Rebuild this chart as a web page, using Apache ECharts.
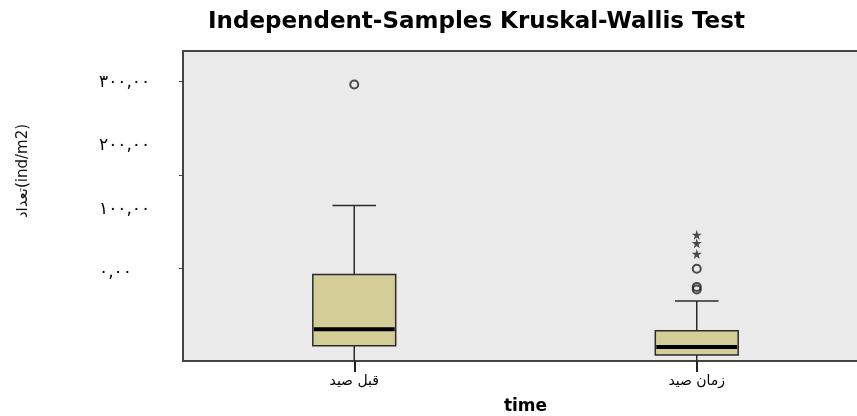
<!DOCTYPE html>
<html>
<head>
<meta charset="utf-8">
<script src="https://cdn.jsdelivr.net/npm/echarts@6/dist/echarts.min.js"></script>
<style>
html,body{margin:0;padding:0;background:#fff;}
#chart{width:857px;height:416px;}
</style>
</head>
<body>
<div id="chart"></div>
<script>
// ---- data ----
const chartTitle = 'Independent-Samples Kruskal-Wallis Test';
const yAxisTitle = 'تعداد(ind/m2)';
const xAxisTitle = 'time';
const categories = ['قبل صید', 'زمان صید'];
const lowerWhisker = [0, 0];
const q1 = [16.5, 6.5];
const medians = [34, 15];
const q3 = [93, 32.5];
const upperWhisker = [167, 64.5];
// outliers: [categoryIndex, value]
const circleOutliers = [[0, 297], [1, 76.8], [1, 79.6], [1, 99]];
const extremeOutliers = [[1, 115], [1, 126.5], [1, 135.5]];
// y tick marks and the tick labels as printed (labels sit on a separate label scale)
const yTickValues = [100, 200, 300];
const yTickLabels = ['۰,۰۰', '۱۰۰,۰۰', '۲۰۰,۰۰', '۳۰۰,۰۰'];
const yLabelSlots = [0, 10, 20, 30];

const boxData = categories.map((c, i) => [i, lowerWhisker[i], q1[i], medians[i], q3[i], upperWhisker[i]]);

const chart = echarts.init(document.getElementById('chart'), null, {renderer: 'canvas'});

const starPath = 'path://M50,0 L61,35 L98,35 L68,57 L79,91 L50,70 L21,91 L32,57 L2,35 L39,35 Z';

function renderBox(params, api) {
  const x = api.value(0);
  const pMin = api.coord([x, api.value(1)]);
  const pQ1 = api.coord([x, api.value(2)]);
  const pMed = api.coord([x, api.value(3)]);
  const pQ3 = api.coord([x, api.value(4)]);
  const pMax = api.coord([x, api.value(5)]);
  const band = api.size([1, 0])[0];
  const bw = band * 0.242;
  const cw = band * 0.127;
  const cx = pMed[0];
  const stroke = {stroke: '#2b2b2b', lineWidth: 1.5};
  return {
    type: 'group',
    children: [
      {type: 'line', shape: {x1: cx, y1: pQ3[1], x2: cx, y2: pMax[1]}, style: stroke},
      {type: 'line', shape: {x1: cx - cw / 2, y1: pMax[1], x2: cx + cw / 2, y2: pMax[1]}, style: stroke},
      {type: 'line', shape: {x1: cx, y1: pQ1[1], x2: cx, y2: pMin[1]}, style: stroke},
      {type: 'rect', shape: {x: cx - bw / 2, y: pQ3[1], width: bw, height: pQ1[1] - pQ3[1]},
        style: {fill: '#D3CE98', stroke: '#2b2b2b', lineWidth: 1.5}},
      {type: 'line', shape: {x1: cx - bw / 2 + 1, y1: pMed[1], x2: cx + bw / 2 - 1, y2: pMed[1]},
        style: {stroke: '#000', lineWidth: 4}}
    ]
  };
}

const option = {
  animation: false,
  backgroundColor: '#ffffff',
  title: {
    text: chartTitle,
    left: 203,
    top: 6,
    textStyle: {fontFamily: 'DejaVu Sans', fontWeight: 'bold', fontSize: 23, color: '#000'}
  },
  graphic: [{
    type: 'text',
    x: 23, y: 171,
    rotation: Math.PI / 2,
    style: {text: yAxisTitle, fontFamily: 'DejaVu Sans', fontSize: 15, fill: '#111',
      align: 'center', verticalAlign: 'middle'}
  }],
  grid: {
    left: 183, top: 51, right: -11, bottom: 55,
    show: true, backgroundColor: '#EAEAEA', borderColor: '#444', borderWidth: 2,
    outerBoundsMode: 'none'
  },
  xAxis: {
    type: 'category',
    data: categories,
    boundaryGap: true,
    axisLine: {lineStyle: {color: '#444', width: 2}},
    axisTick: {show: true, alignWithLabel: true, length: 11, lineStyle: {color: '#222', width: 2}},
    axisLabel: {color: '#000', fontFamily: 'DejaVu Sans', fontSize: 14, margin: 13},
    name: xAxisTitle,
    nameLocation: 'middle',
    nameGap: 37,
    nameTextStyle: {fontFamily: 'DejaVu Sans', fontWeight: 'bold', fontSize: 17, color: '#000'}
  },
  yAxis: [{
    type: 'value',
    min: 0, max: 333, interval: 100,
    axisLine: {show: true, lineStyle: {color: '#444', width: 2}},
    axisTick: {show: true, length: 4, customValues: yTickValues, lineStyle: {color: '#444', width: 1}},
    axisLabel: {show: false},
    splitLine: {show: false}
  }, {
    type: 'value',
    position: 'left',
    min: -14, max: 35, interval: 2,
    axisLine: {show: false},
    axisTick: {show: false},
    splitLine: {show: false},
    axisLabel: {
      align: 'left', margin: 84, color: '#000', fontFamily: 'DejaVu Sans', fontSize: 17,
      customValues: yLabelSlots,
      formatter: function (v) {
        const idx = yLabelSlots.indexOf(Math.round(v));
        return idx >= 0 ? yTickLabels[idx] : '';
      }
    }
  }],
  series: [{
    type: 'custom',
    renderItem: renderBox,
    data: boxData,
    encode: {x: 0, y: [1, 2, 3, 4, 5]},
    z: 3
  }, {
    type: 'scatter',
    data: circleOutliers,
    symbol: 'circle',
    symbolSize: 8,
    itemStyle: {color: 'rgba(0,0,0,0)', borderColor: '#222', borderWidth: 2},
    z: 4
  }, {
    type: 'scatter',
    data: extremeOutliers,
    symbol: starPath,
    symbolSize: 10,
    itemStyle: {color: '#222'},
    z: 4
  }]
};
chart.setOption(option);
</script>
</body>
</html>
